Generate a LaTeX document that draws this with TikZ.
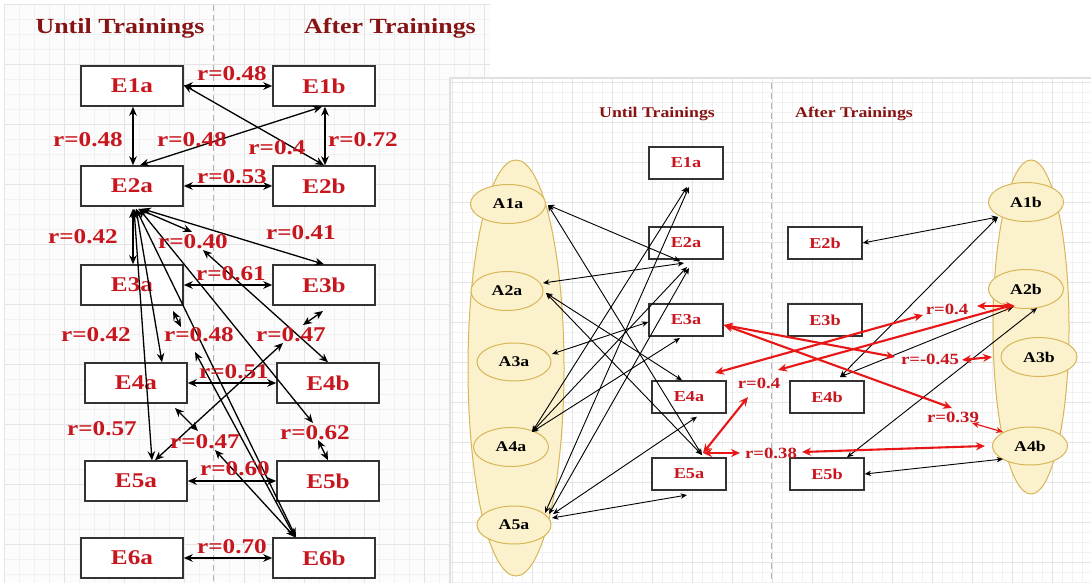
\documentclass[tikz,border=0pt]{standalone}
\usepackage{fontspec}
\setmainfont{Liberation Serif}[FakeStretch=1.2]
\usetikzlibrary{arrows.meta,shapes.geometric}
\definecolor{maroon}{RGB}{135,20,20}
\definecolor{lred}{RGB}{200,22,30}
\definecolor{bred}{RGB}{232,22,22}
\definecolor{ellfill}{RGB}{252,241,205}
\definecolor{elldraw}{RGB}{214,182,86}
\definecolor{gminor}{RGB}{241,241,241}
\definecolor{gmajor}{RGB}{228,228,228}
\begin{document}
\begin{tikzpicture}[x=0.5pt,y=-0.5pt,
  boxL/.style={draw=black!80, line width=0.75pt, fill=white, minimum width=51pt, minimum height=20pt, inner sep=0pt, font=\fontsize{10.5}{12}\selectfont\bfseries, text=lred},
  boxR/.style={draw=black!80, line width=0.7pt, fill=white, minimum width=37pt, minimum height=16pt, inner sep=0pt, font=\fontsize{7.6}{9}\selectfont\bfseries, text=lred},
  ell/.style={ellipse, draw=elldraw, line width=0.5pt, fill=ellfill, inner sep=0pt, font=\fontsize{7.4}{9}\selectfont\bfseries, text=black},
  labL/.style={font=\fontsize{10.5}{12}\selectfont\bfseries, text=lred, inner sep=0pt},
  labR/.style={font=\fontsize{7.8}{9}\selectfont\bfseries, text=lred, inner sep=0pt},
  titL/.style={font=\fontsize{10.8}{12}\selectfont\bfseries, text=maroon, inner sep=0pt},
  titR/.style={font=\fontsize{7.4}{9}\selectfont\bfseries, text=maroon, inner sep=0pt},
  la/.style={line width=0.65pt, {Stealth[length=4.5pt,width=3.8pt]}-{Stealth[length=4.5pt,width=3.8pt]}},
  ra/.style={line width=0.45pt, {Stealth[length=3.2pt,width=2.7pt]}-{Stealth[length=3.2pt,width=2.7pt]}},
  rr/.style={line width=1.05pt, draw=bred, {Stealth[length=4.5pt,width=4pt]}-{Stealth[length=4.5pt,width=4pt]}},
  rrt/.style={line width=0.6pt, draw=bred, {Stealth[length=3.5pt,width=3pt]}-{Stealth[length=3.5pt,width=3pt]}},
  dline/.style={draw=black!30, line width=0.5pt, dash pattern=on 3pt off 2pt}
]
\useasboundingbox (0,0) rectangle (1091,583);
\fill[white] (0,0) rectangle (1091,583);
% ---------- left panel background ----------
\fill[black!1] (4,4) rectangle (490,583);
\begin{scope}
\clip (4,4) rectangle (490,583);
\foreach \i in {0,...,33} {\draw[gminor, line width=0.4pt] (4+15*\i,4) -- (4+15*\i,583);}
\foreach \i in {0,...,39} {\draw[gminor, line width=0.4pt] (4,4+15*\i) -- (490,4+15*\i);}
\foreach \i in {0,...,8} {\draw[gmajor, line width=0.4pt] (4+60*\i,4) -- (4+60*\i,583);}
\foreach \i in {0,...,9} {\draw[gmajor, line width=0.4pt] (4,4+60*\i) -- (490,4+60*\i);}
\end{scope}
\draw[dline] (213,5) -- (213,583);
% ---------- right panel background ----------
\fill[white] (450,78) rectangle (1091,583);
\begin{scope}
\clip (450,78) rectangle (1091,583);
\foreach \i in {0,...,64} {\draw[gminor, line width=0.35pt] (452+10*\i,78) -- (452+10*\i,583);}
\foreach \i in {0,...,51} {\draw[gminor, line width=0.35pt] (450,82+10*\i) -- (1091,82+10*\i);}
\foreach \i in {0,...,16} {\draw[gmajor, line width=0.35pt] (452+40*\i,78) -- (452+40*\i,583);}
\foreach \i in {0,...,13} {\draw[gmajor, line width=0.35pt] (450,82+40*\i) -- (1091,82+40*\i);}
\end{scope}
\draw[black!12, line width=0.6pt] (450,583) -- (450,78) -- (1091,78);
\draw[dline] (771,83) -- (771,583);

% ---------- left panel titles ----------
\node[titL] (tUL) at (120,28) {Until Trainings};
\node[titL] (tAL) at (390,28) {After Trainings};

% ---------- left panel boxes ----------
\node[boxL] (E1aL) at (132,86) {E1a};
\node[boxL] (E1bL) at (324,86) {E1b};
\node[boxL] (E2aL) at (132,186) {E2a};
\node[boxL] (E2bL) at (324,186) {E2b};
\node[boxL] (E3aL) at (132,285) {E3a};
\node[boxL] (E3bL) at (324,285) {E3b};
\node[boxL] (E4aL) at (136,383) {E4a};
\node[boxL] (E4bL) at (328,383) {E4b};
\node[boxL] (E5aL) at (136,481) {E5a};
\node[boxL] (E5bL) at (328,481) {E5b};
\node[boxL] (E6aL) at (132,558) {E6a};
\node[boxL] (E6bL) at (324,558) {E6b};

% free ends (left)
\coordinate (t040) at (192,232);
\coordinate (t062) at (313,423);
\coordinate (s1a) at (173,311);
\coordinate (s1b) at (181,327);
\coordinate (s2a) at (303,325);
\coordinate (s2b) at (323,311);
\coordinate (t040b) at (203,250);
\coordinate (t048) at (195,352);
\coordinate (t047a) at (283,343);
\coordinate (s3a) at (175,408);
\coordinate (s3b) at (198,431);
\coordinate (t047b) at (215,450);
\coordinate (t062b) at (318,440);

% left connectors
\draw[la] (E1aL.east) -- (E1bL.west);
\draw[la] ([xshift=0.5pt]E1aL.south) -- ([xshift=0.5pt]E2aL.north);
\draw[la] ([xshift=0.5pt]E1bL.south) -- ([xshift=0.5pt]E2bL.north);
\draw[la] ([xshift=4pt]E2aL.north) -- ([xshift=-1pt]E1bL.south);
\draw[la] ([yshift=0.5pt]E1aL.east) -- (E2bL.north);
\draw[la] (E2aL.east) -- (E2bL.west);
\draw[la] ([xshift=0.5pt,yshift=-1pt]E2aL.south) -- ([xshift=0.5pt]E3aL.north);
\draw[la] ([xshift=3pt,yshift=-1pt]E2aL.south) -- (t040);
\draw[la] ([xshift=5pt,yshift=-1pt]E2aL.south) -- (E3bL.north);
\draw[la] ([xshift=2pt,yshift=-1pt]E2aL.south) -- ([xshift=13pt]E4aL.north);
\draw[la] ([xshift=1pt,yshift=-1pt]E2aL.south) -- ([xshift=8pt]E5aL.north);
\draw[la] ([xshift=2pt,yshift=-1pt]E2aL.south) -- ([xshift=-14pt]E6bL.north);
\draw[la] ([xshift=3.5pt,yshift=-1pt]E2aL.south) -- (t062);
\draw[la] (E3aL.east) -- (E3bL.west);
\draw[la] (s1a) -- (s1b);
\draw[la] (s2a) -- (s2b);
\draw[la] (t040b) -- (E4bL.north);
\draw[la] (E4aL.east) -- (E4bL.west);
\draw[la] (t048) -- ([xshift=-14.5pt]E6bL.north);
\draw[la] (t047a) -- ([xshift=9.5pt]E5aL.north);
\draw[la] (s3a) -- (s3b);
\draw[la] (t047b) -- ([xshift=-14.5pt]E6bL.north);
\draw[la] (t062b) -- (E5bL.north);
\draw[la] (E5aL.east) -- (E5bL.west);
\draw[la] (E6aL.east) -- (E6bL.west);

% left labels
\node[labL] (l1) at (232,74) {r=0.48};
\node[labL] (l2) at (88,140) {r=0.48};
\node[labL] (l3) at (192,140) {r=0.48};
\node[labL] (l4) at (277,148) {r=0.4};
\node[labL] (l5) at (363,140) {r=0.72};
\node[labL] (l6) at (232,177) {r=0.53};
\node[labL] (l7) at (83,237) {r=0.42};
\node[labL] (l8) at (193,242) {r=0.40};
\node[labL] (l9) at (301,233) {r=0.41};
\node[labL] (l10) at (231,274) {r=0.61};
\node[labL] (l11) at (96,335) {r=0.42};
\node[labL] (l12) at (199,335) {r=0.48};
\node[labL] (l13) at (291,335) {r=0.47};
\node[labL] (l14) at (234,372) {r=0.51};
\node[labL] (l15) at (102,429) {r=0.57};
\node[labL] (l16) at (205,442) {r=0.47};
\node[labL] (l17) at (315,433) {r=0.62};
\node[labL] (l18) at (235,469) {r=0.60};
\node[labL] (l19) at (232,547) {r=0.70};

% ---------- right panel ----------
\node[titR] (tUR) at (657,114) {Until Trainings};
\node[titR] (tAR) at (854,114) {After Trainings};

\draw[elldraw, fill=ellfill, line width=0.5pt] (516,368) ellipse [x radius=48, y radius=208];
\draw[elldraw, fill=ellfill, line width=0.5pt] (1031,327) ellipse [x radius=38, y radius=167];

\node[ell, minimum width=37.5pt, minimum height=19.5pt] (A1a) at (508,204) {A1a};
\node[ell, minimum width=36pt, minimum height=19.5pt] (A2a) at (507,291) {A2a};
\node[ell, minimum width=37pt, minimum height=19pt] (A3a) at (514,362) {A3a};
\node[ell, minimum width=37.5pt, minimum height=19.5pt] (A4a) at (511,447) {A4a};
\node[ell, minimum width=37pt, minimum height=19pt] (A5a) at (514,525) {A5a};
\node[ell, minimum width=37.5pt, minimum height=19.5pt] (A1b) at (1026,202) {A1b};
\node[ell, minimum width=37.5pt, minimum height=19.5pt] (A2b) at (1026,289) {A2b};
\node[ell, minimum width=38pt, minimum height=19.5pt] (A3b) at (1039,357) {A3b};
\node[ell, minimum width=37.5pt, minimum height=19pt] (A4b) at (1030,446) {A4b};

\node[boxR] (E1aR) at (686,163) {E1a};
\node[boxR] (E2aR) at (686,243) {E2a};
\node[boxR] (E3aR) at (686,320) {E3a};
\node[boxR] (E4aR) at (689,397) {E4a};
\node[boxR] (E5aR) at (689,474) {E5a};
\node[boxR] (E2bR) at (825,243) {E2b};
\node[boxR] (E3bR) at (825,320) {E3b};
\node[boxR] (E4bR) at (827,397) {E4b};
\node[boxR] (E5bR) at (827,474) {E5b};

% free ends (right)
\coordinate (pA1a) at (548,205);
\coordinate (pA2a1) at (543,283);
\coordinate (pA2a2) at (546,293);
\coordinate (pA3a) at (552,354);
\coordinate (pA4a) at (532,432);
\coordinate (pA5a1) at (545,513);
\coordinate (pA5a2) at (549,514);
\coordinate (pA5a3) at (553,514);
\coordinate (pA5a4) at (552,518);
\coordinate (qE1a1) at (687,187);
\coordinate (qE1a2) at (689,187);
\coordinate (qE2a1) at (680,261);
\coordinate (qE2a2) at (684,263);
\coordinate (qE2a3) at (687,267);
\coordinate (qE2a4) at (689,268);
\coordinate (qE3a) at (680,338);
\coordinate (qE5a) at (702,455);
\coordinate (qE5ab) at (687,495);
\coordinate (pA1b) at (998,217);
\coordinate (pA2b1) at (1013,307);
\coordinate (pA2b2) at (1037,308);
\coordinate (pA4b) at (1003,459);
\coordinate (qE4b) at (840,377);
% red free ends
\coordinate (rm045) at (895,357);
\coordinate (r039) at (952,408);
\coordinate (rE4a) at (715,373);
\coordinate (r04a) at (923,315);
\coordinate (r04b) at (778,370);
\coordinate (rA2b) at (1013,305);
\coordinate (r05a) at (977,306);
\coordinate (r05b) at (1015,306);
\coordinate (r06a) at (962,360);
\coordinate (r06b) at (992,357);
\coordinate (r07a) at (972,423);
\coordinate (r07b) at (1003,432);
\coordinate (r08) at (748,397);
\coordinate (r09) at (740,453);
\coordinate (r10a) at (802,452);
\coordinate (r10b) at (985,446);
\coordinate (rE5a) at (703,453);

% black connectors (right panel)
\draw[ra] (pA1a) -- (qE2a1);
\draw[ra] (pA1a) -- (qE5a);
\draw[ra] (pA2a1) -- (qE2a2);
\draw[ra] (pA2a2) -- ([xshift=-3.5pt]E4aR.north);
\draw[ra] (pA2a2) -- (qE5a);
\draw[ra] (pA3a) -- ([yshift=-1pt]E3aR.west);
\draw[ra] (pA4a) -- (qE1a1);
\draw[ra] (pA4a) -- (qE2a3);
\draw[ra] (pA4a) -- (qE3a);
\draw[ra] (pA5a1) -- (qE1a2);
\draw[ra] (pA5a2) -- (qE2a4);
\draw[ra] (pA5a3) -- ([xshift=4pt,yshift=-1.5pt]E4aR.south);
\draw[ra] (pA5a4) -- (qE5ab);
\draw[ra] (E2bR.east) -- (pA1b);
\draw[ra] (pA1b) -- (qE4b);
\draw[ra] (pA2b1) -- (qE4b);
\draw[ra] (pA2b2) -- ([xshift=10pt]E5bR.north);
\draw[ra] (E5bR.east) -- (pA4b);

% red connectors
\draw[rr] ([yshift=-2.5pt]E3aR.east) -- (rm045);
\draw[rr] ([yshift=-2.5pt]E3aR.east) -- (r039);
\draw[rr] (rE4a) -- (r04a);
\draw[rr] (r04b) -- (rA2b);
\draw[rr] (r05a) -- (r05b);
\draw[rr] (r06a) -- (r06b);
\draw[rrt] (r07a) -- (r07b);
\draw[rr] (rE5a) -- (r08);
\draw[rr] (rE5a) -- (r09);
\draw[rr] (r10a) -- (r10b);

% right labels
\node[labR] (m1) at (947,309) {r=0.4};
\node[labR] (m2) at (930,359) {r=-0.45};
\node[labR] (m3) at (759,383) {r=0.4};
\node[labR] (m4) at (953,417) {r=0.39};
\node[labR] (m5) at (771,453) {r=0.38};
\end{tikzpicture}
\end{document}
